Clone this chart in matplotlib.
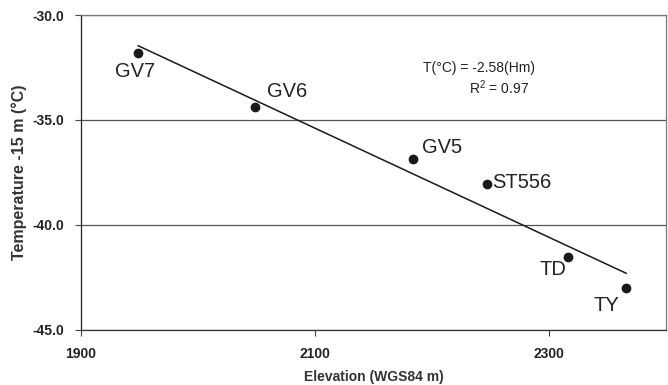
import numpy as np
import matplotlib.pyplot as plt

plt.rcParams['font.family'] = ['Liberation Sans', 'DejaVu Sans']
plt.rcParams['mathtext.fontset'] = 'custom'
plt.rcParams['mathtext.rm'] = 'Liberation Sans'

sites = ["GV7", "GV6", "GV5", "ST556", "TD", "TY"]
elevation = np.array([1949, 2049, 2184, 2247, 2316, 2366])
temperature = np.array([-31.8, -34.38, -36.86, -38.05, -41.52, -43.0])

# label offsets in pixels (dx, dy, ha)
offsets = {"GV7": (-3, -19, 'center'), "GV6": (32, 15, 'center'),
           "GV5": (29, 12, 'center'), "ST556": (5, 2, 'left'),
           "TD": (-15, -13, 'center'), "TY": (-20, -18, 'center')}

fig = plt.figure(figsize=(6.68, 3.85), dpi=100)
ax = fig.add_axes([0.121, 0.143, 0.876, 0.818])

# linear fit
slope, intercept = np.polyfit(elevation, temperature, 1)
xfit = np.array([elevation.min(), elevation.max()])
ax.plot(xfit, slope * xfit + intercept, color='#1a1a1a', lw=1.1, zorder=3)

ax.plot(elevation, temperature, 'o', color='#1a1a1a', ms=6, zorder=4)

for name, x, y in zip(sites, elevation, temperature):
    dx, dy, ha = offsets[name]
    ax.annotate(name, (x, y), xytext=(dx, dy), textcoords='offset pixels',
                ha=ha, va='center', fontsize=14.5, color='#222222')

ax.text(2240, -32.5, "T(°C) = -2.58(Hm)", ha='center', va='center', fontsize=10, color='#222222')
ax.text(2257, -33.45, "R$^2$ = 0.97", ha='center', va='center', fontsize=10, color='#222222')

ax.set_xlim(1900, 2400)
ax.set_ylim(-45, -30)
ax.set_xticks([1900, 2100, 2300])
ax.set_yticks([-45, -40, -35, -30])
ax.set_yticklabels(["-45.0", "-40.0", "-35.0", "-30.0"])
ax.yaxis.grid(True, color='#555555', lw=0.9)
ax.set_axisbelow(True)

for lab in ax.get_xticklabels() + ax.get_yticklabels():
    lab.set_fontweight('bold')
    lab.set_fontsize(10)
    lab.set_color('#222222')
ax.tick_params(length=4, width=0.8, color='#444444', direction='out', pad=8)

ax.spines['left'].set_color('#222222')
ax.spines['bottom'].set_color('#333333')
ax.spines['top'].set_color('#777777')
ax.spines['right'].set_color('#777777')
for s in ax.spines.values():
    s.set_linewidth(0.9)

ax.set_xlabel("Elevation (WGS84 m)", fontsize=10, fontweight='bold', color='#333333', labelpad=7)
ax.set_ylabel("Temperature -15 m (°C)", fontsize=11.5, fontweight='bold', color='#333333', labelpad=4)

fig.savefig("out.png", dpi=100)
